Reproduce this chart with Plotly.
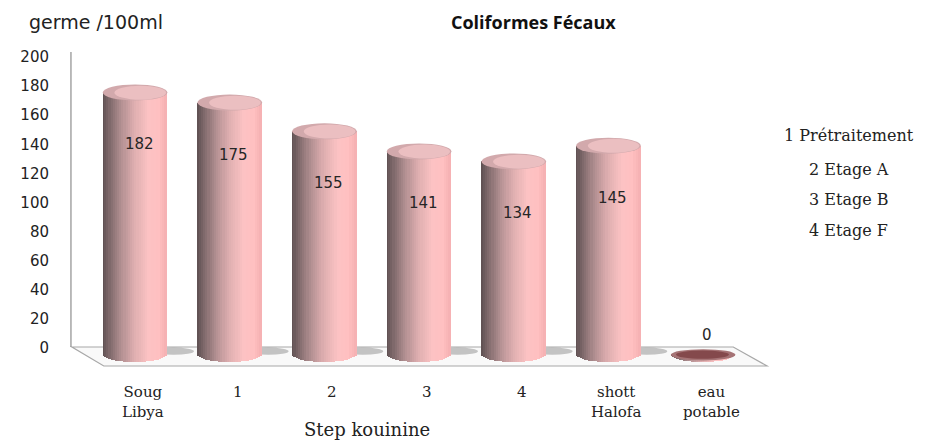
import numpy as np
import plotly.graph_objects as go

# ---------------- data ----------------
categories = ["Soug<br>Libya", "1", "2", "3", "4", "shott<br>Halofa", "eau<br>potable"]
values = [182, 175, 155, 141, 134, 145, 0]
y_ticks = [0, 20, 40, 60, 80, 100, 120, 140, 160, 180, 200]
legend_lines = ["1 Prétraitement", "2 Etage A", "3 Etage B", "4 Etage F"]
title_text = "Coliformes Fécaux"
y_title = "germe /100ml"
x_title = "Step kouinine"

# ---------------- geometry (screen pixels) ----------------
SW, SH = 926, 441
OFF = 8                              # page body margin
PL, PR, PT, PB = 60, 780, 40, 380
CX0, CSTEP = 131.5, 95.2             # pixel centre of first bar, spacing
Y1_ZERO, Y1_S = 348, 1.455           # label axis (back wall)
Y2_ZERO, Y2_S = 354, 1.437           # cylinders (front)

xr = [(PL - CX0) / CSTEP, (PR - CX0) / CSTEP]
yr1 = [(Y1_ZERO - PB) / Y1_S, (Y1_ZERO - PT) / Y1_S]
yr2 = [(Y2_ZERO - PB) / Y2_S, (Y2_ZERO - PT) / Y2_S]

def px_x(px):
    return (px - CX0) / CSTEP

def px_y1(py):
    return (Y1_ZERO - py) / Y1_S

def paper_x(px):
    return (px - PL) / (PR - PL)

def paper_y(py):
    return (PB - py) / (PB - PT)

BW = 65 / CSTEP          # bar width in x units
EH = 8 / Y2_S            # ellipse half height in y2 units

idx = list(range(len(categories)))

stops = [
    (0.00, (92, 78, 80)),
    (0.12, (128, 106, 108)),
    (0.30, (178, 143, 145)),
    (0.50, (222, 174, 176)),
    (0.72, (252, 194, 195)),
    (0.88, (255, 192, 193)),
    (1.00, (244, 176, 178)),
]

def ramp(f):
    for (f0, c0), (f1, c1) in zip(stops[:-1], stops[1:]):
        if f0 <= f <= f1:
            u = (f - f0) / (f1 - f0)
            c = [round(a + (b - a) * u) for a, b in zip(c0, c1)]
            return "rgb(%d,%d,%d)" % tuple(c)
    return "rgb(%d,%d,%d)" % stops[-1][1]

fig = go.Figure()

fig.add_trace(go.Scatter(x=[None], y=[None], xaxis="x", yaxis="y",
                         showlegend=False, hoverinfo="skip"))

N = 30
sw = BW / N
for k in range(N):
    t = -1 + (2 * k + 1) / N
    f = (k + 0.5) / N
    s = np.sqrt(max(0.0, 1 - t * t))
    ov = sw * 0.4 if k > 0 else 0.0
    fig.add_trace(go.Bar(
        x=idx,
        y=[v + EH * s for v in values],
        base=-EH * s,
        offset=-BW / 2 + k * sw - ov,
        width=sw + ov,
        marker=dict(color=ramp(f), line=dict(width=0)),
        xaxis="x", yaxis="y2",
        showlegend=False, hoverinfo="skip",
    ))

shapes = []
fl = [(68, 347), (733, 347), (767, 366), (100, 366)]
path = "M " + " L ".join("%f,%f" % (px_x(a), px_y1(b)) for a, b in fl) + " Z"
shapes.append(dict(type="path", path=path, xref="x", yref="y",
                   fillcolor="rgba(240,240,240,0.4)",
                   line=dict(color="#a8a8a8", width=1.2), layer="below"))
shapes.append(dict(type="line", xref="x", yref="y",
                   x0=px_x(67), x1=px_x(67), y0=px_y1(52), y1=px_y1(347),
                   line=dict(color="#8e8e8e", width=1.2), layer="below"))
for i, v in zip(idx, values):
    if v > 0:
        shapes.append(dict(type="circle", xref="x", yref="y2",
                           x0=i + BW / 2 - 0.15, x1=i + BW / 2 + 0.28,
                           y0=-EH * 0.1, y1=EH * 0.8,
                           fillcolor="rgba(95,95,95,0.35)",
                           line=dict(width=0), layer="below"))
for i, v in zip(idx, values):
    if v > 0:
        shapes.append(dict(type="circle", xref="x", yref="y2",
                           x0=i - BW / 2, x1=i + BW / 2,
                           y0=v - EH, y1=v + EH,
                           fillcolor="#d2a9ac", line=dict(width=0), layer="above"))
        shapes.append(dict(type="circle", xref="x", yref="y2",
                           x0=i - BW / 2 + BW * 0.18, x1=i + BW / 2 - BW * 0.02,
                           y0=v - EH * 0.9, y1=v + EH * 0.85,
                           fillcolor="#ebbfc1", line=dict(width=0), layer="above"))
    else:
        shapes.append(dict(type="circle", xref="x", yref="y2",
                           x0=i - BW / 2, x1=i + BW / 2,
                           y0=v - EH * 0.8, y1=v + EH * 0.6,
                           fillcolor="#a57375", line=dict(width=0), layer="above"))
        shapes.append(dict(type="circle", xref="x", yref="y2",
                           x0=i - BW / 2 + BW * 0.08, x1=i + BW / 2 - BW * 0.1,
                           y0=v - EH * 0.6, y1=v + EH * 0.45,
                           fillcolor="#84494c", line=dict(width=0), layer="above"))

annotations = []
for i, v in zip(idx, values):
    annotations.append(dict(x=i, y=v, xref="x", yref="y2", text=str(v),
                            showarrow=False, xshift=4, yanchor="middle",
                            yshift=(-52 if v > 0 else 19),
                            font=dict(family="DejaVu Sans", size=15, color="#262626")))
for i, c in zip(idx, categories):
    annotations.append(dict(x=i, xref="x", xshift=8,
                            y=paper_y(381), yref="paper", yanchor="top",
                            text=c, showarrow=False,
                            font=dict(family="DejaVu Serif", size=15, color="#222")))
annotations.append(dict(x=paper_x(365), y=paper_y(429), xref="paper", yref="paper",
                        xanchor="center", yanchor="middle",
                        text=x_title, showarrow=False,
                        font=dict(family="DejaVu Serif", size=18, color="#222")))
annotations.append(dict(x=paper_x(23), y=paper_y(22), xref="paper", yref="paper",
                        xanchor="left", yanchor="middle", text=y_title, showarrow=False,
                        font=dict(family="DejaVu Sans", size=19, color="#222")))
annotations.append(dict(x=paper_x(532), y=paper_y(22), xref="paper", yref="paper",
                        xanchor="center", yanchor="middle",
                        text="<b>" + title_text + "</b>", showarrow=False,
                        font=dict(family="Open Sans", size=18, color="#111")))
for py, line in zip([135, 169, 199, 230], legend_lines):
    annotations.append(dict(x=paper_x(849), y=paper_y(py), xref="paper", yref="paper",
                            xanchor="center", yanchor="middle",
                            text=line, showarrow=False,
                            font=dict(family="DejaVu Serif", size=16, color="#222")))

fig.update_layout(
    width=SW - OFF, height=SH - OFF,
    margin=dict(l=PL - OFF, r=SW - PR, t=PT - OFF, b=SH - PB, pad=0),
    paper_bgcolor="white", plot_bgcolor="white",
    barmode="overlay", bargap=0,
    showlegend=False,
    xaxis=dict(range=xr, visible=False, fixedrange=True),
    yaxis=dict(range=yr1, tickvals=y_ticks, ticktext=[str(t) for t in y_ticks],
               showgrid=False, zeroline=False, showline=False, ticks="",
               ticklabelstandoff=14,
               tickfont=dict(family="DejaVu Sans", size=15, color="#222"),
               fixedrange=True),
    yaxis2=dict(range=yr2, overlaying="y", visible=False, fixedrange=True),
    shapes=shapes,
    annotations=annotations,
)

fig.write_html("out.html")
